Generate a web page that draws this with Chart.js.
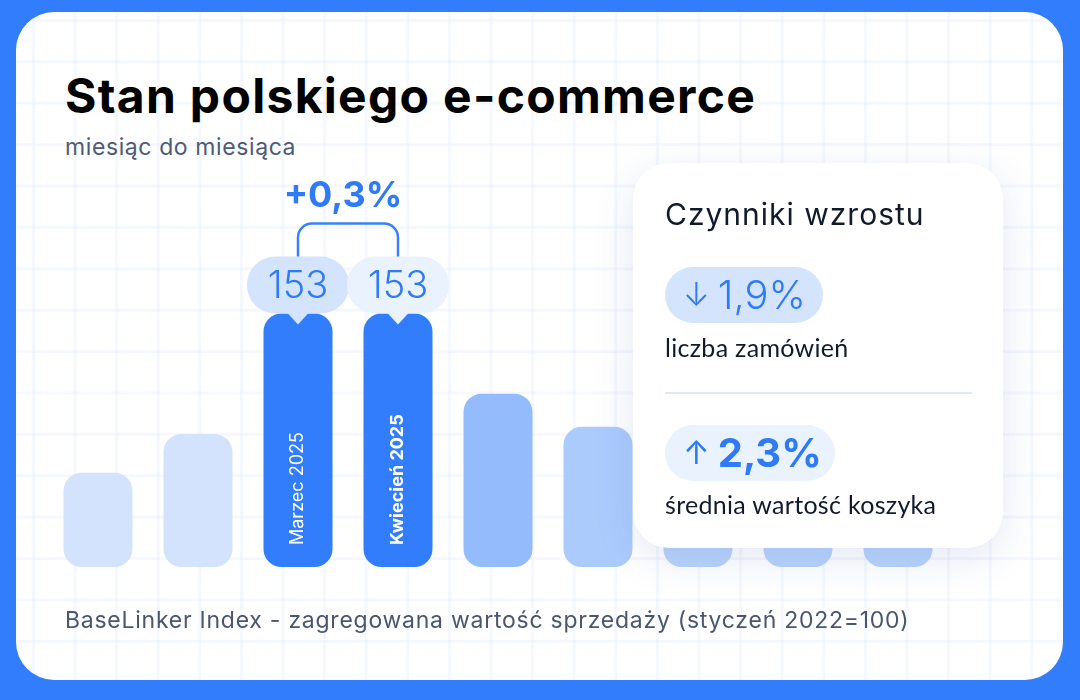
<!DOCTYPE html>
<html lang="pl">
<head>
<meta charset="utf-8">
<script src="https://cdn.jsdelivr.net/npm/chart.js@4.4.1/dist/chart.umd.min.js"></script>
<style>
html,body{margin:0;padding:0;}
body{width:1080px;height:700px;background:#317dfc;position:relative;overflow:hidden;font-family:Inter,"Noto Sans",sans-serif;}
.card{position:absolute;left:16px;top:12px;width:1047px;height:668px;border-radius:38px;background-color:#fff;
  background-image:linear-gradient(to right,rgba(228,237,253,0.38) 3px,transparent 3px),linear-gradient(to bottom,rgba(228,237,253,0.38) 3px,transparent 3px);
  background-size:41.6px 41.4px;background-position:16px 7px;}
.title{position:absolute;left:65px;top:66px;font-size:48px;font-weight:700;color:#000;letter-spacing:1.3px;white-space:nowrap;}
.sub{position:absolute;left:65px;top:133px;font-size:23px;color:#4d5b78;letter-spacing:0.6px;white-space:nowrap;}
.foot{position:absolute;left:65px;top:606px;font-size:23px;color:#4a5670;letter-spacing:0.75px;white-space:nowrap;}
#wrap{position:absolute;left:48px;top:170px;width:900px;height:397px;}
.side{position:absolute;left:633px;top:163px;width:370px;height:385px;border-radius:36px;background:#fff;
  box-shadow:0 10px 40px rgba(40,80,160,0.13);font-family:Lato,Inter,sans-serif;}
.side h2{position:absolute;left:32px;top:33px;margin:0;font-family:Inter,sans-serif;font-weight:400;font-size:30px;letter-spacing:1px;color:#111a2b;white-space:nowrap;}
.pill{position:absolute;left:32px;height:56px;border-radius:28px;color:#2f7bf5;font-family:Inter,sans-serif;font-size:40px;line-height:56px;box-sizing:border-box;padding-left:18px;white-space:nowrap;}
.pill .ar{font-size:32px;margin-right:8px;position:relative;top:-3px;}
.lab{position:absolute;left:32px;font-size:25px;letter-spacing:0.3px;color:#111a2b;white-space:nowrap;}
.hr{position:absolute;left:32px;top:229px;width:307px;height:2px;background:#dde8f8;}
</style>
</head>
<body>
<div class="card"></div>
<div class="title">Stan polskiego e-commerce</div>
<div class="sub">miesiąc do miesiąca</div>
<div id="wrap"><canvas id="chart"></canvas></div>
<div class="side">
  <h2>Czynniki wzrostu</h2>
  <div class="pill" style="top:104px;width:158px;background:#d5e4fd;font-weight:300;"><span class="ar">↓</span>1,9%</div>
  <div class="lab" style="top:169px;">liczba zamówień</div>
  <div class="hr"></div>
  <div class="pill" style="top:262px;width:170px;background:#eaf2fe;font-weight:700;"><span class="ar" style="font-weight:400">↑</span>2,3%</div>
  <div class="lab" style="top:326px;">średnia wartość koszyka</div>
</div>
<div class="foot">BaseLinker Index - zagregowana wartość sprzedaży (styczeń 2022=100)</div>

<script>
// ==================== DATA ====================
const months = ['Styczeń 2025','Luty 2025','Marzec 2025','Kwiecień 2025','Maj 2025','Czerwiec 2025','Lipiec 2025','Sierpień 2025','Wrzesień 2025'];
const indexValues = [119.7, 127.8, 153, 153, 136.2, 129.3, 127, 126, 128];
const barColors = ['#d3e3fd','#d3e3fd','#317dfc','#317dfc','#94bcfd','#accbfd','#b9d3fb','#b9d3fb','#b9d3fb'];
const highlighted = [2, 3];
const bubbleColors = ['#d5e4fd', '#eaf2fe'];
const changeLabel = '+0,3%';
const axisBase = 100;

// ==================== LABELS PLUGIN ====================
function roundRect(ctx, x, y, w, h, r){
  ctx.beginPath();
  ctx.moveTo(x+r, y);
  ctx.arcTo(x+w, y, x+w, y+h, r);
  ctx.arcTo(x+w, y+h, x, y+h, r);
  ctx.arcTo(x, y+h, x, y, r);
  ctx.arcTo(x, y, x+w, y, r);
  ctx.closePath();
}

const labelsPlugin = {
  id: 'labels',
  afterDatasetsDraw(chart){
    const ctx = chart.ctx;
    const meta = chart.getDatasetMeta(0);
    const tops = [];
    highlighted.forEach((i, k) => {
      const bar = meta.data[i];
      const bw = 102, bh = 57;
      const bx = bar.x - bw/2, by = bar.y - bh;
      ctx.save();
      ctx.fillStyle = bubbleColors[k];
      roundRect(ctx, bx, by, bw, bh, 28);
      ctx.fill();
      // pointer
      ctx.beginPath();
      ctx.moveTo(bar.x - 11, bar.y - 1);
      ctx.lineTo(bar.x, bar.y + 11);
      ctx.lineTo(bar.x + 11, bar.y - 1);
      ctx.closePath();
      ctx.fill();
      ctx.fillStyle = '#2f7bf5';
      ctx.font = '300 38px Inter';
      ctx.textAlign = 'center';
      ctx.textBaseline = 'middle';
      ctx.fillText(Math.round(indexValues[i]), bar.x, by + bh/2 + 2);
      // month label inside bar
      ctx.translate(bar.x, chart.chartArea.bottom - 22);
      ctx.rotate(-Math.PI/2);
      ctx.fillStyle = '#fff';
      ctx.font = (k === 1 ? '700 ' : '400 ') + '18px Inter';
      ctx.textAlign = 'left';
      ctx.fillText(months[i], 0, 0);
      ctx.restore();
      tops.push({x: bar.x, y: by});
    });
    // bracket
    const a = tops[0], b = tops[1];
    const ty = Math.min(a.y, b.y) - 33, r = 14;
    ctx.save();
    ctx.strokeStyle = '#3a80f6';
    ctx.lineWidth = 2.5;
    ctx.beginPath();
    ctx.moveTo(a.x, a.y);
    ctx.lineTo(a.x, ty + r);
    ctx.arcTo(a.x, ty, a.x + r, ty, r);
    ctx.lineTo(b.x - r, ty);
    ctx.arcTo(b.x, ty, b.x, ty + r, r);
    ctx.lineTo(b.x, b.y);
    ctx.stroke();
    ctx.fillStyle = '#2f7bf5';
    ctx.font = '700 36px Inter';
    ctx.textAlign = 'center';
    ctx.textBaseline = 'middle';
    ctx.fillText(changeLabel, (a.x + b.x)/2 - 5, ty - 27);
    ctx.restore();
  }
};

// ==================== CHART ====================
new Chart(document.getElementById('chart'), {
  type: 'bar',
  data: {
    labels: months,
    datasets: [{
      data: indexValues,
      base: axisBase,
      backgroundColor: barColors,
      borderRadius: 18,
      borderSkipped: false,
      barPercentage: 0.69,
      categoryPercentage: 1
    }]
  },
  options: {
    responsive: true,
    maintainAspectRatio: false,
    animation: false,
    layout: { padding: 0 },
    plugins: { legend: { display: false }, tooltip: { enabled: false } },
    scales: {
      x: { display: false },
      y: { display: false, min: axisBase, max: 183 }
    }
  },
  plugins: [labelsPlugin]
});
</script>
</body>
</html>
